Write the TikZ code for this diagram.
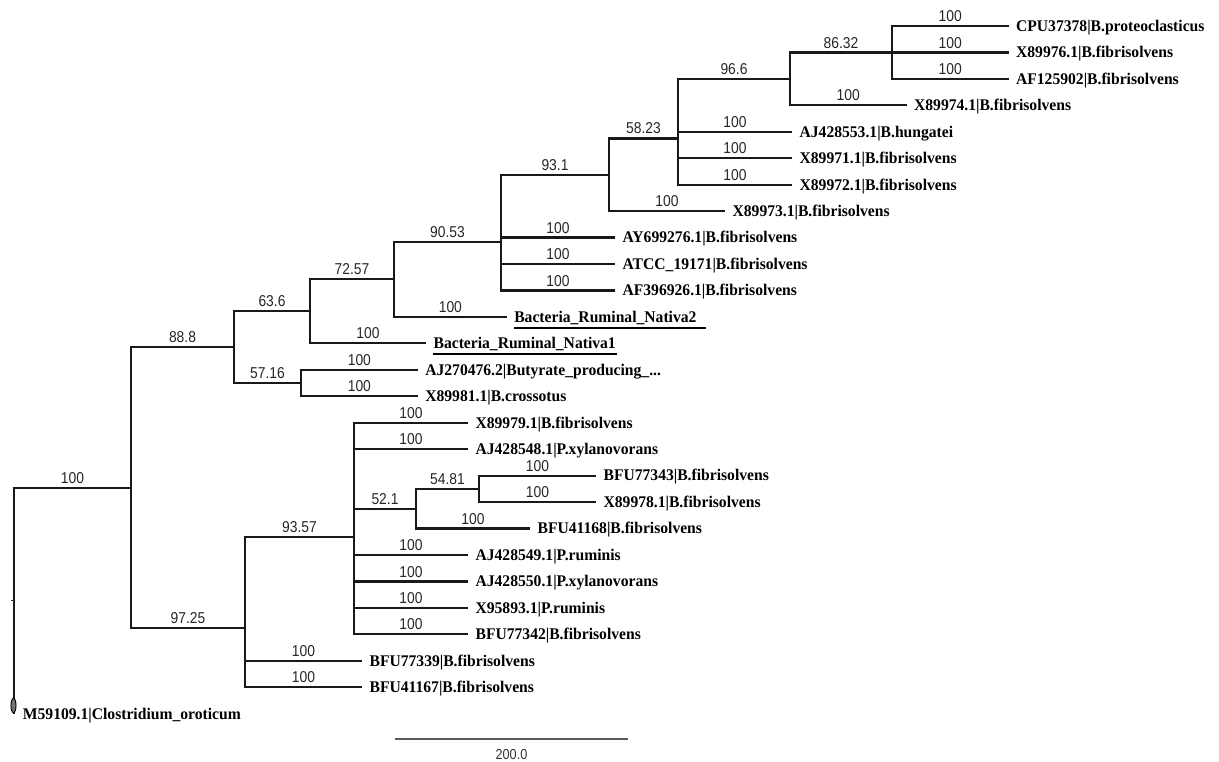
\documentclass[tikz,border=0pt]{standalone}
\usepackage{fontspec}
\setmainfont{Liberation Serif}[FakeStretch=0.96]
\newfontfamily\lsans{Liberation Sans}[FakeStretch=0.88]
\usetikzlibrary{calc}
\newcommand\tbr[3]{\draw[branch] (#1) |- (#2); \node[blab] at ($(#1|-#2)!0.5!(#2)$) {#3};}
\begin{document}
\begin{tikzpicture}[x=0.75pt,y=-0.75pt,
  branch/.style={line width=1.65pt, black!90},
  leaflab/.style={anchor=base west, inner sep=0pt, font=\bfseries\fontsize{12.2}{13}\selectfont, xshift=5.5pt, yshift=-4pt},
  blab/.style={anchor=south, inner sep=0pt, font=\lsans\fontsize{11.8}{13}\selectfont, text=black!85, yshift=3pt},
  uline/.style={line width=1.1pt, black},
  scalebar/.style={line width=1.2pt, black!65},
]
\useasboundingbox (0,0) rectangle (1219,762);
% internal nodes
\coordinate (R) at (14,600.75);
\coordinate (N) at (131,487.8);
\coordinate (I) at (234,347.22);
\coordinate (G) at (310,311.37);
\coordinate (F) at (394,279.34);
\coordinate (E) at (501,241.73);
\coordinate (D) at (609,174.78);
\coordinate (C) at (678,138.41);
\coordinate (B) at (790,78.9);
\coordinate (A) at (892,52.45);
\coordinate (H) at (301,383.08);
\coordinate (M) at (245,628.37);
\coordinate (L) at (354,537.05);
\coordinate (K) at (416,508.71);
\coordinate (J) at (479,488.88);
% leaf tips
\coordinate (t1) at (1008.5,26);
\coordinate (t2) at (1008.5,52.45);
\coordinate (t3) at (1008.5,78.9);
\coordinate (t4) at (906.5,105.35);
\coordinate (t5) at (792,131.8);
\coordinate (t6) at (792,158.25);
\coordinate (t7) at (792,184.7);
\coordinate (t8) at (725,211.15);
\coordinate (t9) at (615,237.6);
\coordinate (t10) at (615,264.05);
\coordinate (t11) at (615,290.5);
\coordinate (t12) at (506.7,316.95);
\coordinate (t13) at (426,343.4);
\coordinate (t14) at (417.7,369.85);
\coordinate (t15) at (417.7,396.3);
\coordinate (t16) at (468,422.75);
\coordinate (t17) at (468,449.2);
\coordinate (t18) at (596,475.65);
\coordinate (t19) at (596,502.1);
\coordinate (t20) at (530,528.55);
\coordinate (t21) at (468,555);
\coordinate (t22) at (468,581.45);
\coordinate (t23) at (468,607.9);
\coordinate (t24) at (468,634.35);
\coordinate (t25) at (362,660.8);
\coordinate (t26) at (362,687.25);
\coordinate (t27) at (14,713.7);
% leaf labels
\node[leaflab] (l1) at (t1) {CPU37378|B.proteoclasticus};
\node[leaflab] (l2) at (t2) {X89976.1|B.fibrisolvens};
\node[leaflab] (l3) at (t3) {AF125902|B.fibrisolvens};
\node[leaflab] (l4) at (t4) {X89974.1|B.fibrisolvens};
\node[leaflab] (l5) at (t5) {AJ428553.1|B.hungatei};
\node[leaflab] (l6) at (t6) {X89971.1|B.fibrisolvens};
\node[leaflab] (l7) at (t7) {X89972.1|B.fibrisolvens};
\node[leaflab] (l8) at (t8) {X89973.1|B.fibrisolvens};
\node[leaflab] (l9) at (t9) {AY699276.1|B.fibrisolvens};
\node[leaflab] (l10) at (t10) {ATCC\_19171|B.fibrisolvens};
\node[leaflab] (l11) at (t11) {AF396926.1|B.fibrisolvens};
\node[leaflab] (l12) at (t12) {Bacteria\_Ruminal\_Nativa2};
\node[leaflab] (l13) at (t13) {Bacteria\_Ruminal\_Nativa1};
\node[leaflab] (l14) at (t14) {AJ270476.2|Butyrate\_producing\_...};
\node[leaflab] (l15) at (t15) {X89981.1|B.crossotus};
\node[leaflab] (l16) at (t16) {X89979.1|B.fibrisolvens};
\node[leaflab] (l17) at (t17) {AJ428548.1|P.xylanovorans};
\node[leaflab] (l18) at (t18) {BFU77343|B.fibrisolvens};
\node[leaflab] (l19) at (t19) {X89978.1|B.fibrisolvens};
\node[leaflab] (l20) at (t20) {BFU41168|B.fibrisolvens};
\node[leaflab] (l21) at (t21) {AJ428549.1|P.ruminis};
\node[leaflab] (l22) at (t22) {AJ428550.1|P.xylanovorans};
\node[leaflab] (l23) at (t23) {X95893.1|P.ruminis};
\node[leaflab] (l24) at (t24) {BFU77342|B.fibrisolvens};
\node[leaflab] (l25) at (t25) {BFU77339|B.fibrisolvens};
\node[leaflab] (l26) at (t26) {BFU41167|B.fibrisolvens};
\node[leaflab, xshift=1pt] (l27) at (t27) {M59109.1|Clostridium\_oroticum};
% underlines
\draw[uline] ([yshift=-4.3pt]l12.base west) -- ([yshift=-4.3pt,xshift=7pt]l12.base east);
\draw[uline] ([yshift=-4pt]l13.base west) -- ([yshift=-4pt,xshift=1pt]l13.base east);
% branches
\tbr{R}{N}{100}
\draw[branch] (R) |- (t27);
\tbr{N}{I}{88.8}
\tbr{N}{M}{97.25}
\tbr{I}{G}{63.6}
\tbr{I}{H}{57.16}
\tbr{G}{F}{72.57}
\tbr{G}{t13}{100}
\tbr{F}{E}{90.53}
\tbr{F}{t12}{100}
\tbr{E}{D}{93.1}
\tbr{E}{t9}{100}
\tbr{E}{t10}{100}
\tbr{E}{t11}{100}
\tbr{D}{C}{58.23}
\tbr{D}{t8}{100}
\tbr{C}{B}{96.6}
\tbr{C}{t5}{100}
\tbr{C}{t6}{100}
\tbr{C}{t7}{100}
\tbr{B}{A}{86.32}
\tbr{B}{t4}{100}
\tbr{A}{t1}{100}
\tbr{A}{t2}{100}
\tbr{A}{t3}{100}
\tbr{H}{t14}{100}
\tbr{H}{t15}{100}
\tbr{M}{L}{93.57}
\tbr{M}{t25}{100}
\tbr{M}{t26}{100}
\tbr{L}{t16}{100}
\tbr{L}{t17}{100}
\tbr{L}{K}{52.1}
\tbr{L}{t21}{100}
\tbr{L}{t22}{100}
\tbr{L}{t23}{100}
\tbr{L}{t24}{100}
\tbr{K}{J}{54.81}
\tbr{K}{t20}{100}
\tbr{J}{t18}{100}
\tbr{J}{t19}{100}
% root mark and outgroup tip marker
\coordinate (rs) at (11,600.75);
\draw[line width=1pt, black!80] (rs) -- (R);
\coordinate (ov) at (13.5,705.5);
\draw[fill=black!55, line width=0.7pt] (ov) ellipse [x radius=1.9pt, y radius=5.4pt];
% scale bar
\coordinate (s1) at (395,739);
\coordinate (s2) at (628,739);
\draw[scalebar] (s1) -- (s2) node[midway, anchor=north, inner sep=0pt, yshift=-7pt, font=\lsans\fontsize{10.8}{12}\selectfont, text=black!80] (sl) {200.0};
\end{tikzpicture}
\end{document}
